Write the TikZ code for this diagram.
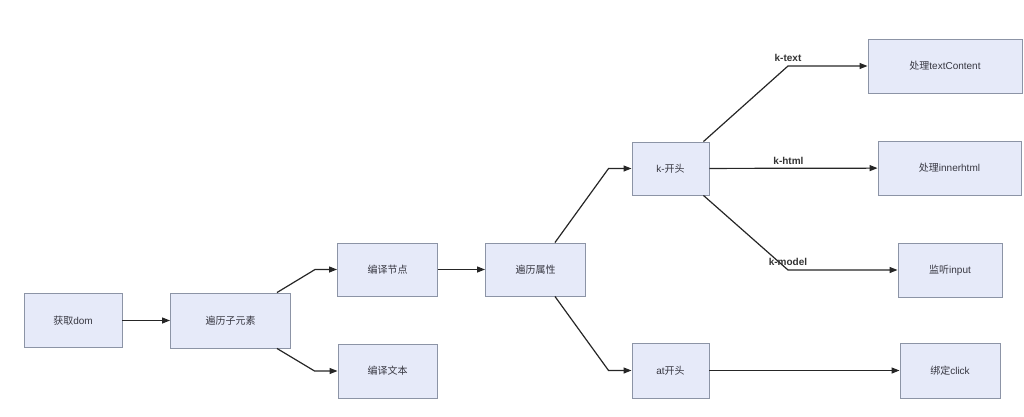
\documentclass[tikz,border=0pt]{standalone}
\usepackage{fontspec}
\setmainfont{Liberation Sans}
\newfontfamily\cjk{Noto Sans CJK SC}
\usetikzlibrary{arrows.meta}
\definecolor{boxfill}{RGB}{230,234,249}
\definecolor{boxline}{RGB}{140,148,166}
\definecolor{txt}{RGB}{55,55,65}
\tikzset{
  box/.style={draw=boxline, line width=0.9pt, fill=boxfill, text=txt, inner sep=0pt,
    font=\fontsize{10}{12}\selectfont},
  arr/.style={draw=black!85, line width=1.2pt, -{Triangle[length=8pt,width=6pt]}},
  lab/.style={font=\fontsize{10}{12}\selectfont\bfseries, text=black!80, inner sep=1pt, anchor=south, yshift=3pt}
}
\begin{document}
\begin{tikzpicture}[x=1pt,y=-1pt]
\useasboundingbox (0,0) rectangle (1024,417);
\node[box, minimum width=98pt, minimum height=54pt] (dom) at (73,320.5) {{\cjk 获取}dom};
\node[box, minimum width=120pt, minimum height=55pt] (child) at (230.5,320.5) {\cjk 遍历子元素};
\node[box, minimum width=100pt, minimum height=53pt] (cnode) at (387.5,269.5) {\cjk 编译节点};
\node[box, minimum width=99pt, minimum height=54pt] (ctext) at (387.5,371) {\cjk 编译文本};
\node[box, minimum width=100pt, minimum height=53pt] (attr) at (535.5,269.5) {\cjk 遍历属性};
\node[box, minimum width=77pt, minimum height=53pt] (kst) at (670.5,168.5) {k-{\cjk 开头}};
\node[box, minimum width=77pt, minimum height=55pt] (ast) at (670.5,370.5) {at{\cjk 开头}};
\node[box, minimum width=154pt, minimum height=54pt] (tc) at (945,66) {{\cjk 处理}textContent};
\node[box, minimum width=143pt, minimum height=54pt] (ih) at (949.5,168) {{\cjk 处理}innerhtml};
\node[box, minimum width=104pt, minimum height=54pt] (inp) at (950,270) {{\cjk 监听}input};
\node[box, minimum width=100pt, minimum height=55pt] (clk) at (950,370.5) {{\cjk 绑定}click};

\draw[arr] (dom) -- (child);
\draw[arr] ([xshift=-14pt]child.north east) -- ([xshift=-22pt]cnode.west) -- (cnode.west);
\draw[arr] ([xshift=-14pt]child.south east) -- ([xshift=-23pt]ctext.west) -- (ctext.west);
\draw[arr] (cnode) -- (attr);
\draw[arr] ([xshift=-31pt]attr.north east) -- ([xshift=-23pt]kst.west) coordinate (b1) -- (kst.west);
\draw[arr] ([xshift=-31pt]attr.south east) -- ([xshift=-23pt]ast.west) coordinate (b2) -- (ast.west);
\draw[arr] ([xshift=-6pt]kst.north east) -- (788,66) coordinate (bt) -- (tc.west);
\node[lab] (lt) at (bt) {k-text};
\draw[arr] (kst) -- coordinate[pos=0.47] (bh) (ih);
\node[lab] (lh) at (bh) {k-html};
\draw[arr] ([xshift=-6pt]kst.south east) -- (788,270) coordinate (bm) -- (inp.west);
\node[lab] (lm) at (bm) {k-model};
\draw[arr] (ast) -- (clk);
\end{tikzpicture}
\end{document}
